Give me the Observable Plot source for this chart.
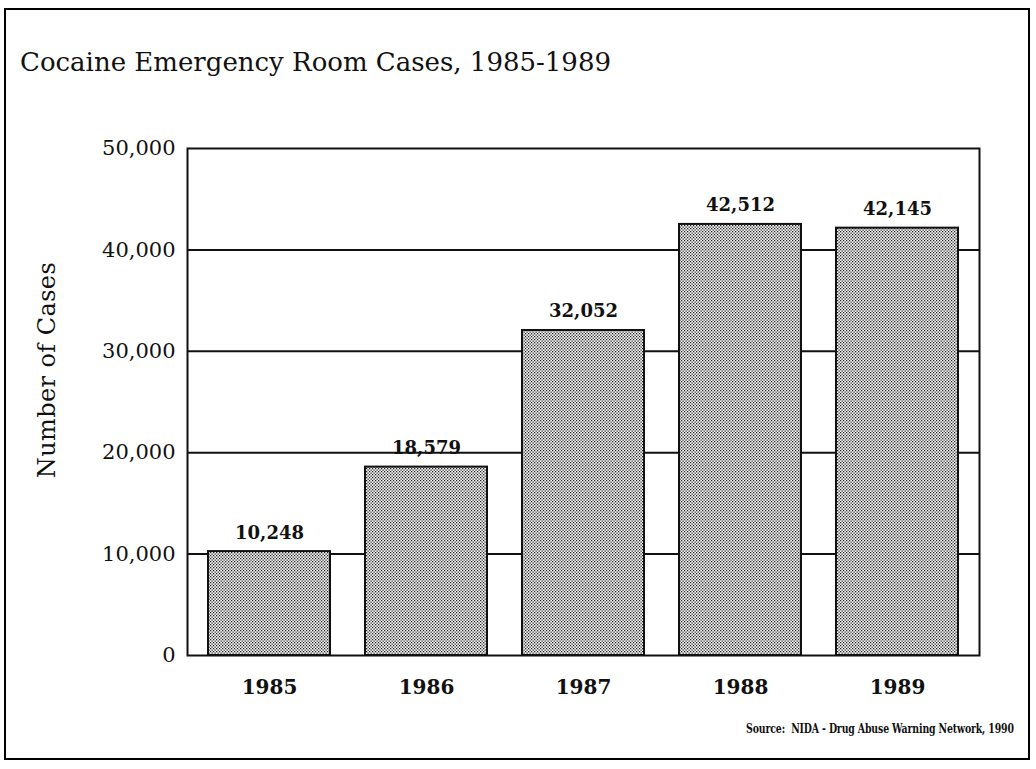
<!DOCTYPE html>
<html><head><meta charset="utf-8">
<script src="https://cdn.jsdelivr.net/npm/d3@7"></script>
<script src="https://cdn.jsdelivr.net/npm/@observablehq/plot@0.6"></script>
<style>
body{margin:0;background:#fff;}
#wrap{position:relative;width:1036px;height:769px;overflow:hidden;background:#fff;}
#border{position:absolute;left:4px;top:8px;width:1026px;height:752px;border:2px solid #000;box-sizing:border-box;}
#title{position:absolute;left:20px;top:47px;font-family:"DejaVu Serif",serif;font-size:26px;color:#111;white-space:nowrap;}
#ylab{position:absolute;left:47px;top:370px;transform:translate(-50%,-50%) rotate(-90deg);font-family:"DejaVu Serif",serif;font-size:24px;letter-spacing:0.4px;color:#111;white-space:nowrap;}
#src{position:absolute;right:22px;top:721px;font-family:"DejaVu Serif",serif;font-weight:bold;font-size:13px;color:#111;white-space:nowrap;transform:scaleX(0.72);transform-origin:right center;letter-spacing:-0.2px;}
#chart{position:absolute;left:0;top:0;}
</style></head>
<body><div id="wrap"><div id="border"></div><div id="chart"></div>
<div id="title">Cocaine Emergency Room Cases, 1985-1989</div>
<div id="ylab">Number of Cases</div>
<div id="src">Source:&nbsp; NIDA - Drug Abuse Warning Network, 1990</div>
</div>
<script>
const years = ["1985","1986","1987","1988","1989"];
const cases = [10248, 18579, 32052, 42512, 42145];
const yTicks = [0, 10000, 20000, 30000, 40000, 50000];
const gridValues = [10000, 20000, 30000, 40000];

const data = years.map((y, i) => ({year: y, value: cases[i]}));
const fmt = d3.format(",");

const svg = Plot.plot({
  width: 1036, height: 769,
  marginLeft: 187, marginRight: 57, marginTop: 148, marginBottom: 114,
  style: {fontFamily: "DejaVu Serif, serif", background: "transparent", color: "#111"},
  x: {domain: years, paddingInner: 0.22, paddingOuter: 0.12, label: null},
  y: {domain: [0, 50000], label: null},
  marks: [
    Plot.ruleY(gridValues, {stroke: "#111", strokeWidth: 2}),
    Plot.barY(data, {x: "year", y: "value", fill: "url(#stip)", stroke: "#111", strokeWidth: 2}),
    Plot.text(data, {x: "year", y: "value", text: d => fmt(d.value), lineAnchor: "bottom", dy: -13, fontSize: 18, fontWeight: "bold", fill: "#111"}),
    Plot.frame({stroke: "#111", strokeWidth: 2}),
    Plot.axisY({ticks: yTicks, tickFormat: fmt, tickSize: 0, tickPadding: 12, fontSize: 21, label: null}),
    Plot.axisX({tickSize: 0, tickPadding: 24, fontSize: 20, fontWeight: "bold", label: null})
  ]
});
const ns = "http://www.w3.org/2000/svg";
const defs = document.createElementNS(ns, "defs");
defs.innerHTML = '<pattern id="stip" patternUnits="userSpaceOnUse" width="3" height="3"><rect width="3" height="3" fill="#f2f2f2"/><rect x="0" y="0" width="1.25" height="1.25" fill="#222"/><rect x="1.5" y="1.5" width="1.25" height="1.25" fill="#222"/></pattern>';
svg.insertBefore(defs, svg.firstChild);
document.getElementById("chart").appendChild(svg);
</script></body></html>
